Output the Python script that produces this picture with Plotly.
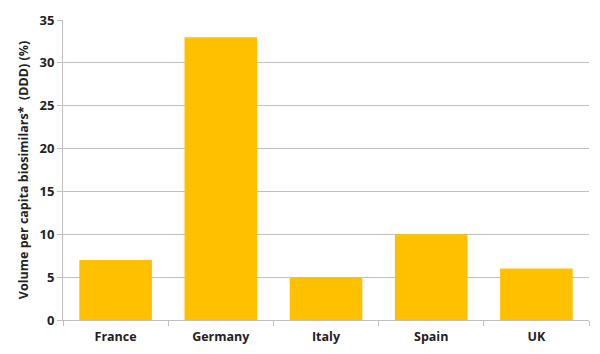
import plotly.graph_objects as go

countries = ["France", "Germany", "Italy", "Spain", "UK"]
values = [7, 33, 5, 10, 6]
y_ticks = [0, 5, 10, 15, 20, 25, 30, 35]

fig = go.Figure(go.Bar(x=countries, y=values, marker=dict(color="#FFC000", line=dict(width=0))))

font = "Open Sans"
fig.update_layout(
    width=600, height=354,
    margin=dict(l=63, r=11, t=13, b=34),
    paper_bgcolor="white", plot_bgcolor="white",
    bargap=0.31,
    showlegend=False,
    font=dict(family=font, size=12, color="#222"),
)
fig.update_xaxes(
    showline=True, linecolor="#BFBFBF", linewidth=1,
    ticks="outside", tickson="boundaries", ticklen=5, tickcolor="#BFBFBF",
    ticklabelstandoff=5, automargin=False,
    tickfont=dict(family=font, size=12.5, color="#222", weight="bold"),
    showgrid=False,
)
fig.update_yaxes(
    range=[0, 35], tickvals=y_ticks,
    showline=True, linecolor="#BFBFBF", linewidth=1,
    ticks="outside", ticklen=5, tickcolor="#BFBFBF",
    showgrid=True, gridcolor="#BFBFBF", gridwidth=1,
    tickfont=dict(family=font, size=13, color="#222", weight="bold"),
    title=dict(text="Volume per capita biosimilars*  (DDD) (%)",
               font=dict(family=font, size=12.5, color="#222", weight="bold"), standoff=8),
    zeroline=False,
)
fig.write_html("out.html")
